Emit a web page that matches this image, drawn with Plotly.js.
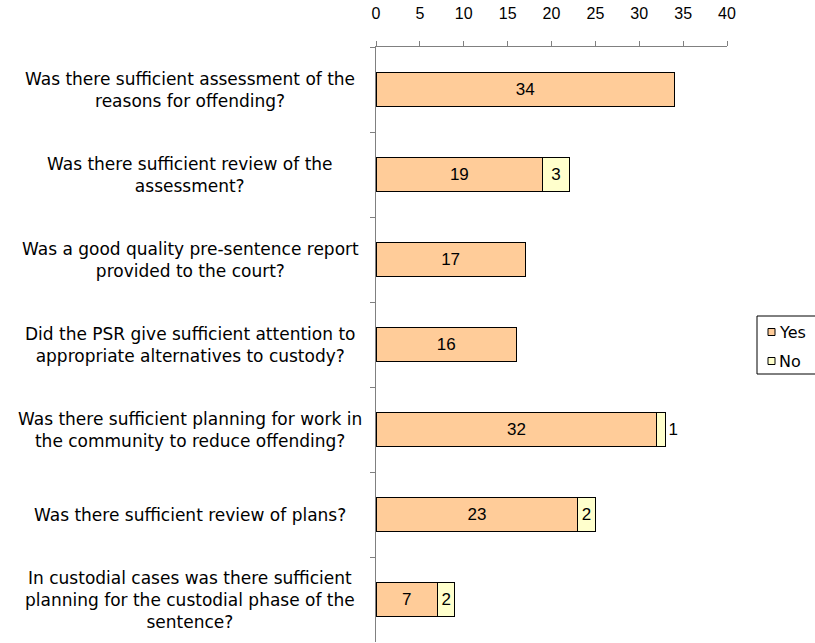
<!DOCTYPE html>
<html>
<head>
<meta charset="utf-8">
<script src="https://cdn.plot.ly/plotly-3.0.1.min.js"></script>
<style>html,body{margin:0;padding:0;background:#fff;overflow:hidden;}#chart{width:815px;height:643px;}</style>
</head>
<body>
<div id="chart"></div>
<script>
const categories = [
  "Was there sufficient assessment of the<br>reasons for offending?",
  "Was there sufficient review of the<br>assessment?",
  "Was a good quality pre-sentence report<br>provided to the court?",
  "Did the PSR give sufficient attention to<br>appropriate alternatives to custody?",
  "Was there sufficient planning for work in<br>the community to reduce offending?",
  "Was there sufficient review of plans?",
  "In custodial cases was there sufficient<br>planning for the custodial phase of the<br>sentence?"
];
const seriesNames = ["Yes", "No"];
const yesValues = [34, 19, 17, 16, 32, 23, 7];
const noValues = [0, 3, 0, 0, 1, 2, 2];
const xTicks = [0, 5, 10, 15, 20, 25, 30, 35, 40];
const seriesColors = ["#FFCC99", "#FFFFCC"];

const LABEL_FONT = "DejaVu Sans, sans-serif";
const NUM_FONT = "Liberation Sans, Arial, sans-serif";
const W = 815, H = 643;
const M = {l: 376, r: 88, t: 47, b: 1};
const PW = W - M.l - M.r, PH = H - M.t - M.b;
const px2x = p => (p - M.l) / PW;
const px2y = p => (H - M.b - p) / PH;

const ids = categories.map((c, i) => "c" + i);
const yesText = yesValues.map(v => v > 0 ? String(v) : "");
const noText = noValues.map(v => v > 0 ? String(v) : "");
const noPos = noValues.map(v => v === 1 ? "outside" : "inside");

const traces = [
  {
    type: "bar", orientation: "h", name: seriesNames[0],
    y: ids, x: yesValues, text: yesText,
    textposition: "inside", insidetextanchor: "middle",
    textfont: {family: NUM_FONT, size: 17, color: "#000"},
    marker: {color: seriesColors[0], line: {color: "#000", width: 1}},
    hoverinfo: "x"
  },
  {
    type: "bar", orientation: "h", name: seriesNames[1],
    y: ids, x: noValues, text: noText,
    textposition: noPos, insidetextanchor: "middle",
    textfont: {family: NUM_FONT, size: 17, color: "#000"},
    constraintext: "none", cliponaxis: false,
    marker: {color: seriesColors[1], line: {color: "#000", width: 1}},
    hoverinfo: "x"
  }
];

const annotations = categories.map((c, i) => ({
  xref: "paper", yref: "y", x: px2x(190), y: ids[i],
  text: c, showarrow: false, xanchor: "center", yanchor: "middle", align: "center",
  font: {family: LABEL_FONT, size: 17, color: "#000"}
}));

// custom legend (box clipped at right edge as in the reference)
const legItemsY = [332, 361];
const shapes = [
  {type: "rect", xref: "paper", yref: "paper", x0: px2x(757), x1: px2x(830), y0: px2y(316), y1: px2y(374),
   line: {color: "#000", width: 1}, fillcolor: "#fff", layer: "above"}
];
seriesNames.forEach((n, i) => {
  const cy = legItemsY[i];
  shapes.push({type: "rect", xref: "paper", yref: "paper", x0: px2x(768), x1: px2x(775), y0: px2y(cy - 3.5), y1: px2y(cy + 3.5),
    line: {color: "#000", width: 1}, fillcolor: seriesColors[i], layer: "above"});
  annotations.push({xref: "paper", yref: "paper", x: px2x(777), y: px2y(cy), xanchor: "left", yanchor: "middle",
    text: n, showarrow: false, font: {family: LABEL_FONT, size: 16, color: "#000"}});
});

const layout = {
  width: W, height: H,
  margin: {l: M.l, r: M.r, t: M.t, b: M.b, pad: 0, autoexpand: false},
  paper_bgcolor: "#fff", plot_bgcolor: "#fff",
  barmode: "stack", bargap: 0.59,
  showlegend: false,
  xaxis: {
    side: "top", range: [0, 40], tickvals: xTicks, ticktext: xTicks.map(String),
    ticks: "outside", ticklen: 5, tickcolor: "#808080", showline: true, linecolor: "#808080", linewidth: 1,
    showgrid: false, zeroline: false, ticklabelstandoff: 16, automargin: false,
    tickfont: {family: NUM_FONT, size: 16, color: "#000"}, fixedrange: true
  },
  yaxis: {
    type: "category", autorange: "reversed", showticklabels: false,
    ticks: "outside", tickson: "boundaries", ticklen: 5, tickcolor: "#808080",
    showline: true, linecolor: "#808080", linewidth: 1, showgrid: false, zeroline: false, fixedrange: true
  },
  annotations: annotations,
  shapes: shapes
};

Plotly.newPlot("chart", traces, layout, {displayModeBar: false, staticPlot: true});
</script>
</body>
</html>
